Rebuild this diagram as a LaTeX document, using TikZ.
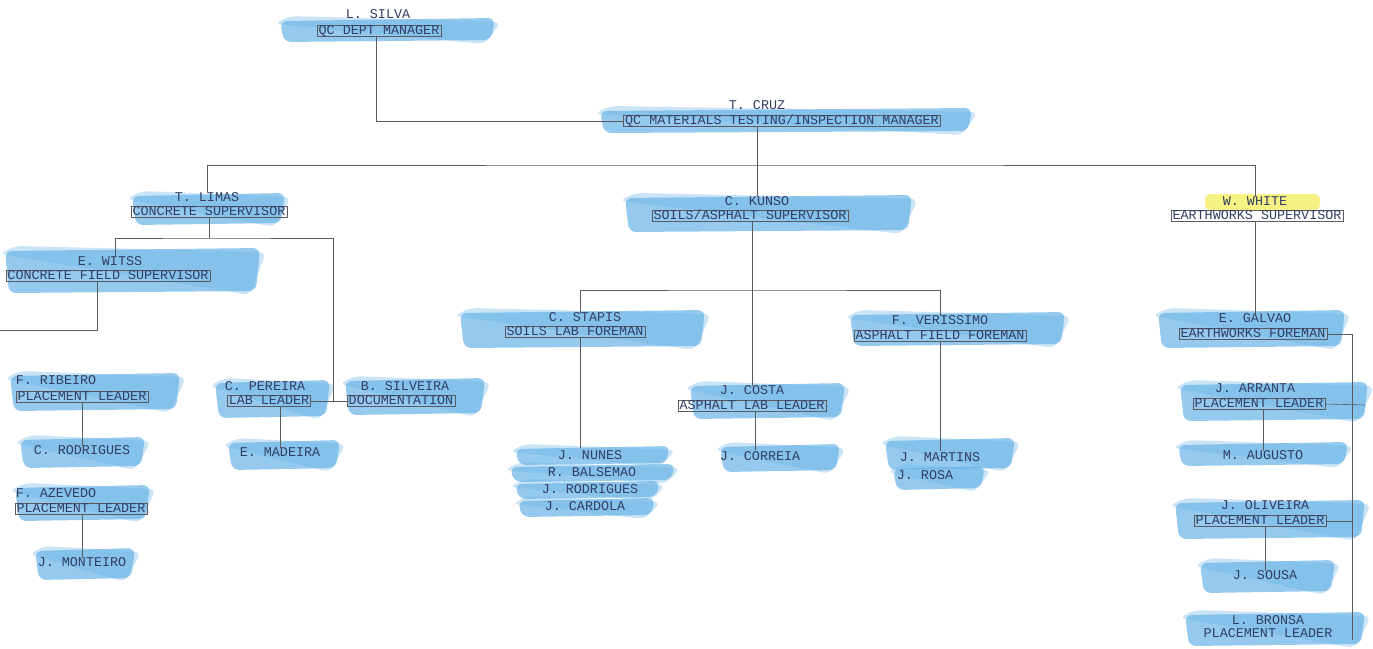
\documentclass[tikz,border=0pt]{standalone}
\usepackage{fontspec}
\newfontfamily\tw{Liberation Mono}
\definecolor{ink}{RGB}{50,62,100}
\definecolor{wire}{RGB}{90,90,95}
\definecolor{marker}{RGB}{105,180,232}
\definecolor{hilite}{RGB}{244,240,110}
\newcommand{\smr}[4]{\fill[smear] (#1,#2+3) -- (#3,#2) -- (#3-4,#4-2) -- (#1+4,#4) -- cycle;
  \fill[smear, fill opacity=0.35] (#1-6,#2+6) -- (#1+10,#2-2) -- (#3+6,#2+4) -- (#3-10,#4+2) -- cycle;}
\begin{document}
\begin{tikzpicture}[x=1pt,y=-1pt,
  nm/.style={font=\tw\fontsize{13.4}{14}\selectfont, text=ink, inner sep=1pt, text height=7pt, text depth=0.5pt},
  ttl/.style={nm, draw=wire, line width=0.5pt, inner xsep=1.5pt, inner ysep=1.6pt},
  con/.style={draw=wire, line width=0.6pt},
  smear/.style={fill=marker, fill opacity=0.7, rounded corners=7pt},
  yel/.style={fill=hilite, fill opacity=0.85, rounded corners=5pt}]
\useasboundingbox (0,0) rectangle (1373,648);
\fill[white] (0,0) rectangle (1373,648);
% marker smears
\smr{280}{18}{495}{42}
\smr{600}{108}{972}{133}
\smr{132}{193}{285}{225}
\smr{5}{248}{260}{293}
\smr{625}{195}{912}{232}
\smr{10}{373}{180}{411}
\smr{20}{437}{145}{468}
\smr{15}{485}{150}{521}
\smr{35}{548}{135}{580}
\smr{215}{380}{330}{418}
\smr{228}{440}{340}{470}
\smr{345}{378}{485}{415}
\smr{460}{310}{705}{348}
\smr{515}{446}{670}{465}
\smr{510}{464}{675}{482}
\smr{515}{481}{660}{499}
\smr{518}{498}{655}{517}
\smr{690}{383}{845}{419}
\smr{720}{444}{840}{472}
\smr{850}{312}{1065}{346}
\smr{885}{438}{1015}{470}
\smr{893}{466}{985}{490}
\smr{1158}{310}{1345}{348}
\smr{1180}{382}{1368}{421}
\smr{1178}{442}{1348}{466}
\smr{1175}{500}{1365}{539}
\smr{1200}{560}{1335}{593}
\smr{1185}{612}{1365}{646}
\fill[yel] (1205,194) rectangle (1320,210);
% nodes
\node[nm] (silvaN) at (378,15) {L. SILVA};
\node[ttl] (silva) at (379,31) {QC DEPT MANAGER};
\node[nm] (cruzN) at (757,106) {T. CRUZ};
\node[ttl] (cruz) at (782,121) {QC MATERIALS TESTING/INSPECTION MANAGER};
\node[nm] (limasN) at (207,198) {T. LIMAS};
\node[ttl] (limas) at (209,212) {CONCRETE SUPERVISOR};
\node[nm] (witssN) at (110,262) {E. WITSS};
\node[ttl] (witss) at (108,276) {CONCRETE FIELD SUPERVISOR};
\node[nm] (ribeiroN) at (56,381) {F. RIBEIRO};
\node[ttl] (ribeiro) at (82,397) {PLACEMENT LEADER};
\node[nm] (crodrigues) at (82,451) {C. RODRIGUES};
\node[nm] (azevedoN) at (56,494) {F. AZEVEDO};
\node[ttl] (azevedo) at (81,509) {PLACEMENT LEADER};
\node[nm] (monteiro) at (82,563) {J. MONTEIRO};
\node[nm] (pereiraN) at (265,387) {C. PEREIRA};
\node[ttl] (pereira) at (269,401) {LAB LEADER};
\node[nm] (madeira) at (280,453) {E. MADEIRA};
\node[nm] (silveiraN) at (405,387) {B. SILVEIRA};
\node[ttl] (silveira) at (401,401) {DOCUMENTATION};
\node[nm] (kunsoN) at (757,202) {C. KUNSO};
\node[ttl] (kunso) at (750,216) {SOILS/ASPHALT SUPERVISOR};
\node[nm] (stapisN) at (585,318) {C. STAPIS};
\node[ttl] (stapis) at (575,332) {SOILS LAB FOREMAN};
\node[nm] (nunes) at (590,456) {J. NUNES};
\node[nm] (balsemao) at (592,473) {R. BALSEMAO};
\node[nm] (jrodrigues) at (590,490) {J. RODRIGUES};
\node[nm] (cardola) at (585,507) {J. CARDOLA};
\node[nm] (costaN) at (752,391) {J. COSTA};
\node[ttl] (costa) at (752,406) {ASPHALT LAB LEADER};
\node[nm] (correia) at (760,457) {J. CORREIA};
\node[nm] (verissimoN) at (940,321) {F. VERISSIMO};
\node[ttl] (verissimo) at (940,336) {ASPHALT FIELD FOREMAN};
\node[nm] (martins) at (940,458) {J. MARTINS};
\node[nm] (rosa) at (925,476) {J. ROSA};
\node[nm] (whiteN) at (1255,202) {W. WHITE};
\node[ttl] (white) at (1257,216) {EARTHWORKS SUPERVISOR};
\node[nm] (galvaoN) at (1255,319) {E. GALVAO};
\node[ttl] (galvao) at (1253,334) {EARTHWORKS FOREMAN};
\node[nm] (arrantaN) at (1255,389) {J. ARRANTA};
\node[ttl] (arranta) at (1259,404) {PLACEMENT LEADER};
\node[nm] (augusto) at (1263,456) {M. AUGUSTO};
\node[nm] (oliveiraN) at (1265,506) {J. OLIVEIRA};
\node[ttl] (oliveira) at (1260,521) {PLACEMENT LEADER};
\node[nm] (sousa) at (1265,576) {J. SOUSA};
\node[nm] (bronsaN) at (1268,621) {L. BRONSA};
\node[nm] (bronsa) at (1268,634) {PLACEMENT LEADER};
% junction coordinates
\coordinate (bus) at (757,165);
\coordinate (lbus) at (209,238);
\coordinate (kbus) at (755,290);
\coordinate (wend) at (0,330);
\coordinate (gend) at (1352,640);
\coordinate (aend) at (1365,405);
% connectors
\draw[con] (silva.south -| 376,0) |- (cruz.west);
\draw[con] (cruz.south -| bus) -- (bus);
\draw[con] (limasN.north) |- (bus) -| (whiteN.north);
\draw[con] (bus) -- (kunsoN.north);
\draw[con] (limas.south) -- (lbus);
\draw[con] (witssN.north -| 115,0) |- (lbus) -| (333,401);
\draw[con] (pereira.east) -- (silveira.west);
\draw[con] (witss.south -| 97,0) |- (wend);
\draw[con] (ribeiro.south -| crodrigues.north) -- (crodrigues.north);
\draw[con] (azevedo.south -| monteiro.north) -- (monteiro.north);
\draw[con] (pereira.south -| madeira.north) -- (madeira.north);
\draw[con] (kunso.south -| costaN.north) -- (costaN.north);
\draw[con] (stapisN.north -| 580,0) |- (kbus) -| (verissimoN.north -| 940,0);
\draw[con] (stapis.south -| 580,0) -- (580,448);
\draw[con] (costa.south -| 755,0) -- (755,450);
\draw[con] (verissimo.south -| 940,0) -- (940,451);
\draw[con] (white.south -| 1255,0) -- (galvaoN.north);
\draw[con] (galvao.east) -| (gend);
\draw[con] (arranta.east) -- (aend);
\draw[con] (oliveira.east) -- (oliveira.east -| gend);
\draw[con] (arranta.south -| 1263,0) -- (augusto.north -| 1263,0);
\draw[con] (oliveira.south -| 1265,0) -- (sousa.north -| 1265,0);
\end{tikzpicture}
\end{document}
